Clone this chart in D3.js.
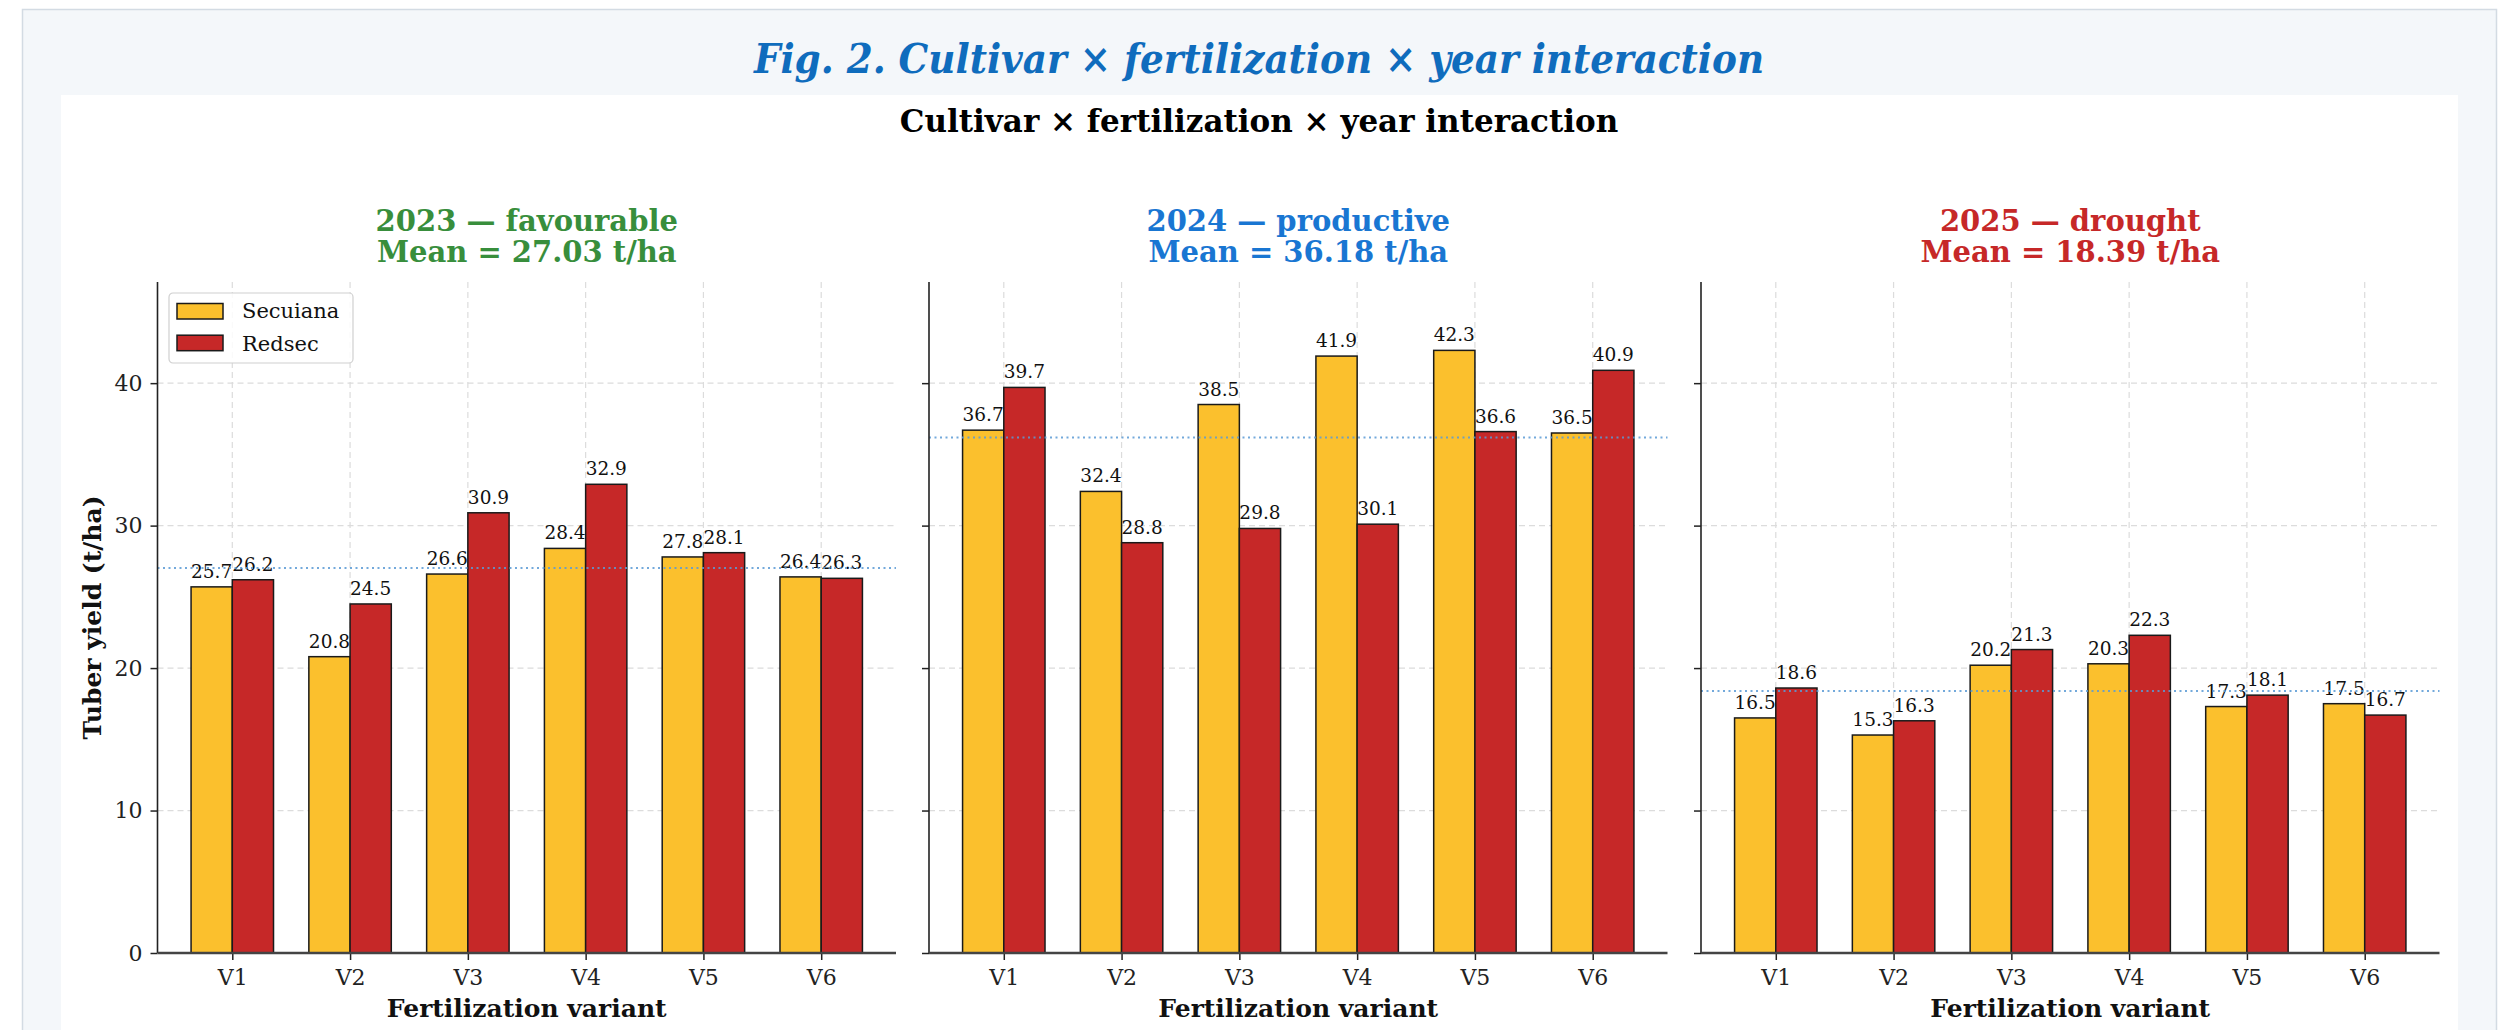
<!DOCTYPE html>
<html>
<head>
<meta charset="utf-8">
<script src="https://cdn.jsdelivr.net/npm/d3@7"></script>
<style>
  html, body { margin: 0; padding: 0; background: #ffffff; }
  svg { display: block; }
  text { font-family: "DejaVu Serif", serif; }
</style>
</head>
<body>
<div id="chart"></div>
<script>
// data
const variants = ["V1", "V2", "V3", "V4", "V5", "V6"];
const cultivars = ["Secuiana", "Redsec"];
const years = ["2023 — favourable", "2024 — productive", "2025 — drought"];
const yearMeans = [27.03, 36.18, 18.39];
const secuiana = [
  [25.7, 20.8, 26.6, 28.4, 27.8, 26.4],
  [36.7, 32.4, 38.5, 41.9, 42.3, 36.5],
  [16.5, 15.3, 20.2, 20.3, 17.3, 17.5]
];
const redsec = [
  [26.2, 24.5, 30.9, 32.9, 28.1, 26.3],
  [39.7, 28.8, 29.8, 30.1, 36.6, 40.9],
  [18.6, 16.3, 21.3, 22.3, 18.1, 16.7]
];
const yTicks = [0, 10, 20, 30, 40];

const titleColors = ["#388e3c", "#1976d2", "#c62828"];
const barColors = ["#fbc02d", "#c62828"];

const W = 2518, H = 1030;
const svg = d3.select("#chart").append("svg")
  .attr("width", W).attr("height", H);

// page card + white figure area
svg.append("rect").attr("x", 22.5).attr("y", 9.5).attr("width", 2474).attr("height", 1040)
  .attr("fill", "#f4f7fa").attr("stroke", "#d3dbe3").attr("stroke-width", 1.5);
svg.append("rect").attr("x", 61).attr("y", 95).attr("width", 2397).attr("height", 960)
  .attr("fill", "#ffffff");

svg.append("text")
  .attr("x", 1259).attr("y", 73)
  .attr("text-anchor", "middle")
  .style("font-family", "'DejaVu Serif', serif")
  .style("font-stretch", "condensed")
  .style("font-style", "italic")
  .style("font-weight", "bold")
  .style("font-size", "41.5px")
  .attr("fill", "#0f6cbd")
  .text("Fig. 2. Cultivar × fertilization × year interaction");

svg.append("text")
  .attr("x", 1259).attr("y", 132)
  .attr("text-anchor", "middle")
  .style("font-weight", "bold")
  .style("font-size", "31px")
  .attr("fill", "#000")
  .text("Cultivar × fertilization × year interaction");

const panelLeft = [157.5, 929, 1701];
const panelW = 738.5;
const plotTop = 282, plotBottom = 953;

const y = d3.scaleLinear().domain([0, 47.1]).range([plotBottom, plotTop]);
const barW = 0.35;

years.forEach((yr, i) => {
  const x0 = panelLeft[i];
  const x = d3.scaleLinear()
    .domain([-barW - 0.285, variants.length - 1 + barW + 0.285])
    .range([x0, x0 + panelW]);
  const g = svg.append("g");

  // grid
  g.selectAll(".hgrid").data(yTicks).join("line")
    .attr("x1", x0).attr("x2", x0 + panelW)
    .attr("y1", d => y(d)).attr("y2", d => y(d))
    .attr("stroke", "#dcdcdc").attr("stroke-width", 1.2).attr("stroke-dasharray", "6,4");
  g.selectAll(".vgrid").data(variants).join("line")
    .attr("x1", (d, j) => x(j)).attr("x2", (d, j) => x(j))
    .attr("y1", plotTop).attr("y2", plotBottom)
    .attr("stroke", "#dcdcdc").attr("stroke-width", 1.2).attr("stroke-dasharray", "6,4");

  // bars
  [secuiana[i], redsec[i]].forEach((vals, k) => {
    const off = k === 0 ? -barW : 0;
    g.selectAll(".bar" + k).data(vals).join("rect")
      .attr("x", (d, j) => x(j + off))
      .attr("width", x(barW) - x(0))
      .attr("y", d => y(d))
      .attr("height", d => plotBottom - y(d))
      .attr("fill", barColors[k])
      .attr("stroke", "#1a1a1a").attr("stroke-width", 1.5);
    g.selectAll(".lab" + k).data(vals).join("text")
      .attr("x", (d, j) => x(j + off + barW / 2))
      .attr("y", d => y(d) - 9)
      .attr("text-anchor", "middle")
      .style("font-size", "18.5px")
      .attr("fill", "#111")
      .text(d => d.toFixed(1));
  });

  // mean line
  g.append("line")
    .attr("x1", x0).attr("x2", x0 + panelW)
    .attr("y1", y(yearMeans[i])).attr("y2", y(yearMeans[i]))
    .attr("stroke", "#5b9bd5").attr("stroke-width", 2).attr("stroke-dasharray", "2,3.5")
    .attr("opacity", 0.85);

  // axes
  const yAxis = g.append("g").attr("transform", `translate(${x0},0)`)
    .call(d3.axisLeft(y).tickValues(yTicks).tickSize(7).tickPadding(8)
      .tickFormat(i === 0 ? d3.format("d") : () => ""));
  yAxis.select(".domain").remove();
  yAxis.selectAll("line").attr("stroke", "#222").attr("stroke-width", 1.5);
  yAxis.selectAll("text").style("font-size", "22px").style("font-family", "'DejaVu Serif', serif").attr("fill", "#222");
  g.append("line").attr("x1", x0).attr("x2", x0).attr("y1", plotTop).attr("y2", plotBottom)
    .attr("stroke", "#222").attr("stroke-width", 1.6);

  const xAxis = g.append("g").attr("transform", `translate(0,${plotBottom})`)
    .call(d3.axisBottom(x).tickValues(d3.range(variants.length)).tickSize(7).tickPadding(9)
      .tickFormat(j => variants[j]));
  xAxis.select(".domain").remove();
  xAxis.selectAll("line").attr("stroke", "#222").attr("stroke-width", 1.5);
  xAxis.selectAll("text").style("font-size", "22px").style("font-family", "'DejaVu Serif', serif").attr("fill", "#222");
  g.append("line").attr("x1", x0).attr("x2", x0 + panelW).attr("y1", plotBottom).attr("y2", plotBottom)
    .attr("stroke", "#444").attr("stroke-width", 2.5);

  // titles
  const cx = x0 + panelW / 2;
  g.append("text").attr("x", cx).attr("y", 231).attr("text-anchor", "middle")
    .style("font-weight", "bold").style("font-size", "29px").attr("fill", titleColors[i]).text(yr);
  g.append("text").attr("x", cx).attr("y", 262).attr("text-anchor", "middle")
    .style("font-weight", "bold").style("font-size", "29px").attr("fill", titleColors[i])
    .text("Mean = " + yearMeans[i].toFixed(2) + " t/ha");

  g.append("text").attr("x", cx).attr("y", 1017).attr("text-anchor", "middle")
    .style("font-weight", "bold").style("font-size", "25px").attr("fill", "#111")
    .text("Fertilization variant");

  if (i === 0) {
    const leg = g.append("g").attr("transform", "translate(169,293)");
    leg.append("rect").attr("width", 184).attr("height", 70).attr("rx", 4)
      .attr("fill", "#fff").attr("fill-opacity", 0.85).attr("stroke", "#d0d0d0").attr("stroke-width", 1.2);
    cultivars.forEach((c, k) => {
      leg.append("rect").attr("x", 8).attr("y", 10.5 + k * 31.7).attr("width", 46).attr("height", 15.5)
        .attr("fill", barColors[k]).attr("stroke", "#1a1a1a").attr("stroke-width", 1.5);
      leg.append("text").attr("x", 73).attr("y", 25 + k * 32.5)
        .style("font-size", "21px").attr("fill", "#111").text(c);
    });
  }
});

svg.append("text")
  .attr("transform", `translate(101,${(plotTop + plotBottom) / 2}) rotate(-90)`)
  .attr("text-anchor", "middle")
  .style("font-weight", "bold").style("font-size", "25px").attr("fill", "#111")
  .text("Tuber yield (t/ha)");
</script>
</body>
</html>
